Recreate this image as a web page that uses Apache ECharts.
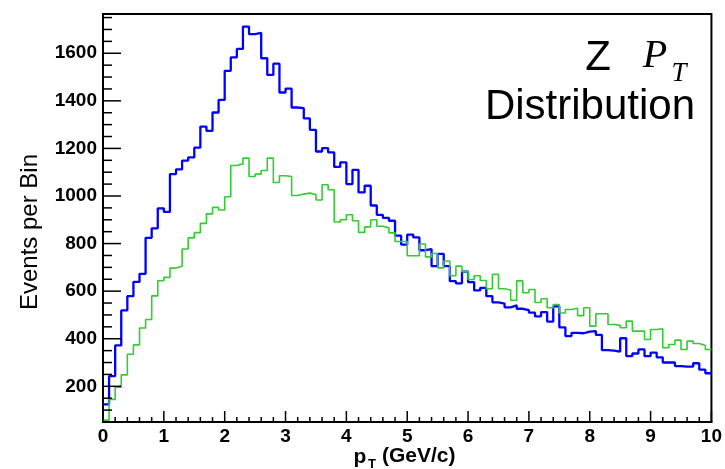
<!DOCTYPE html>
<html><head><meta charset="utf-8">
<script src="https://cdn.jsdelivr.net/npm/echarts@6/dist/echarts.min.js"></script>
<style>html,body{margin:0;padding:0;background:#fff}#c{width:725px;height:469px}</style>
</head><body><div id="c"></div>
<script>
// Histogram bin low edges (GeV/c), bin width 0.1
const binLowEdges = [
  0.0,0.1,0.2,0.3,0.4,0.5,0.6,0.7,0.8,0.9,
  1.0,1.1,1.2,1.3,1.4,1.5,1.6,1.7,1.8,1.9,
  2.0,2.1,2.2,2.3,2.4,2.5,2.6,2.7,2.8,2.9,
  3.0,3.1,3.2,3.3,3.4,3.5,3.6,3.7,3.8,3.9,
  4.0,4.1,4.2,4.3,4.4,4.5,4.6,4.7,4.8,4.9,
  5.0,5.1,5.2,5.3,5.4,5.5,5.6,5.7,5.8,5.9,
  6.0,6.1,6.2,6.3,6.4,6.5,6.6,6.7,6.8,6.9,
  7.0,7.1,7.2,7.3,7.4,7.5,7.6,7.7,7.8,7.9,
  8.0,8.1,8.2,8.3,8.4,8.5,8.6,8.7,8.8,8.9,
  9.0,9.1,9.2,9.3,9.4,9.5,9.6,9.7,9.8,9.9
];
const histUpperEdge = 10.0;

// Blue histogram (events per bin)
const blueCounts = [
  124,243,372,519,579,639,673,824,864,948,
  933,1092,1112,1149,1162,1203,1292,1274,1351,1404,
  1526,1583,1618,1712,1680,1686,1579,1509,1556,1435,
  1451,1372,1369,1326,1278,1187,1201,1183,1122,1141,
  1050,1110,1015,1043,960,921,908,896,833,796,
  838,826,772,777,705,757,705,642,633,682,
  638,603,614,579,553,548,532,540,526,520,
  510,494,512,472,536,448,411,425,423,430,
  432,416,352,350,346,402,327,338,355,327,
  342,322,300,300,285,283,283,297,270,255
];

// Green histogram (events per bin)
const greenCounts = [
  58,145,196,248,335,374,445,481,580,644,
  658,697,705,777,824,846,885,925,952,941,
  997,1128,1135,1159,1082,1092,1107,1159,1057,1085,
  1082,1002,1008,1012,1006,983,1047,1026,891,900,
  921,896,847,870,900,873,866,845,809,809,
  749,749,798,744,758,698,727,665,705,682,
  649,665,645,610,671,610,605,562,643,593,
  607,552,568,530,544,508,523,528,497,530,
  453,505,505,460,456,446,474,432,432,397,
  439,442,362,376,394,355,390,380,372,355
];

const xTickLabels = [0,1,2,3,4,5,6,7,8,9,10];
const xMinorTicks = [0.2,0.4,0.6,0.8,1.2,1.4,1.6,1.8,2.2,2.4,2.6,2.8,3.2,3.4,3.6,3.8,4.2,4.4,4.6,4.8,
                     5.2,5.4,5.6,5.8,6.2,6.4,6.6,6.8,7.2,7.4,7.6,7.8,8.2,8.4,8.6,8.8,9.2,9.4,9.6,9.8];
const yMajorTicks = [200,400,600,800,1000,1200,1400,1600];
const yMinorTicks = [100,150,250,300,350,450,500,550,650,700,750,850,900,950,1050,1100,1150,1250,1300,1350,1450,1500,1550,1650,1700,1750];
const yRange = [50, 1765];

function toSteps(counts){
  const d = counts.map((v,i)=>[binLowEdges[i], v]);
  d.push([histUpperEdge, counts[counts.length-1]]);
  return d;
}

const FONT = "Liberation Sans";
const SERIF = "Liberation Serif";
const INK = '#000';
const xMin = xTickLabels[0], xMax = xTickLabels[xTickLabels.length-1];

// Inward tick marks, placed through the axis scales (api.coord)
function xTickSeries(values, len){
  return {type:'custom', silent:true, z:5, data: values.map(v=>[v, yRange[0]]),
    renderItem:(params, api)=>{
      const p = api.coord([api.value(0), yRange[0]]);
      return {type:'line', shape:{x1:p[0], y1:p[1], x2:p[0], y2:p[1]-len}, style:{stroke:INK, lineWidth:1.5}};
    }};
}
function yTickSeries(values, len){
  return {type:'custom', silent:true, z:5, data: values.map(v=>[xMin, v]),
    renderItem:(params, api)=>{
      const p = api.coord([xMin, api.value(1)]);
      return {type:'line', shape:{x1:p[0], y1:p[1], x2:p[0]+len, y2:p[1]}, style:{stroke:INK, lineWidth:1.5}};
    }};
}

const chart = echarts.init(document.getElementById('c'));
chart.setOption({
  animation:false,
  grid:{left:103,right:13,top:14,bottom:47,show:true,borderColor:INK,borderWidth:2},
  xAxis:{
    type:'value',min:xMin,max:xMax,interval:1,
    axisLine:{show:true,lineStyle:{color:INK,width:2}},
    axisTick:{show:false},
    splitLine:{show:false},
    axisLabel:{fontFamily:FONT,fontWeight:'bold',fontSize:19,color:INK,margin:5}
  },
  yAxis:{
    type:'value',min:yRange[0],max:yRange[1],
    axisLine:{show:true,lineStyle:{color:INK,width:2}},
    axisTick:{show:false},
    axisLabel:{customValues:yMajorTicks,formatter:v=>String(v),fontFamily:FONT,fontWeight:'bold',fontSize:19,color:INK,margin:6},
    splitLine:{show:false}
  },
  series:[
    {type:'line',step:'end',data:toSteps(blueCounts),symbol:'none',z:3,
     lineStyle:{color:'#0000ff',width:2.3}},
    {type:'line',step:'end',data:toSteps(greenCounts),symbol:'none',z:4,
     lineStyle:{color:'#33cc33',width:1.6}},
    xTickSeries(xTickLabels, 11),
    xTickSeries(xMinorTicks, 5),
    yTickSeries(yMajorTicks, 18),
    yTickSeries(yMinorTicks, 9)
  ],
  graphic:[
    {type:'text',x:30,y:232,rotation:Math.PI/2,
     style:{text:'Events per Bin',fontFamily:FONT,fontSize:24,fill:INK,align:'center',verticalAlign:'middle'}},
    {type:'text',x:598,y:58,style:{text:'Z',fontFamily:FONT,fontSize:42,fill:INK,align:'center',verticalAlign:'middle'}},
    {type:'text',x:655,y:56,style:{text:'P',fontFamily:SERIF,fontStyle:'italic',fontSize:40,fill:INK,align:'center',verticalAlign:'middle'}},
    {type:'text',x:679,y:74,style:{text:'T',fontFamily:SERIF,fontStyle:'italic',fontSize:27,fill:INK,align:'center',verticalAlign:'middle'}},
    {type:'text',x:590,y:107,style:{text:'Distribution',fontFamily:FONT,fontSize:42,fill:INK,align:'center',verticalAlign:'middle'}},
    {type:'text',x:360,y:457,style:{text:'p',fontFamily:FONT,fontWeight:'bold',fontSize:21,fill:INK,align:'center',verticalAlign:'middle'}},
    {type:'text',x:372,y:464,style:{text:'T',fontFamily:FONT,fontWeight:'bold',fontSize:13,fill:INK,align:'center',verticalAlign:'middle'}},
    {type:'text',x:382,y:456,style:{text:'(GeV/c)',fontFamily:FONT,fontWeight:'bold',fontSize:21,fill:INK,align:'left',verticalAlign:'middle'}}
  ]
});
</script>
</body></html>
